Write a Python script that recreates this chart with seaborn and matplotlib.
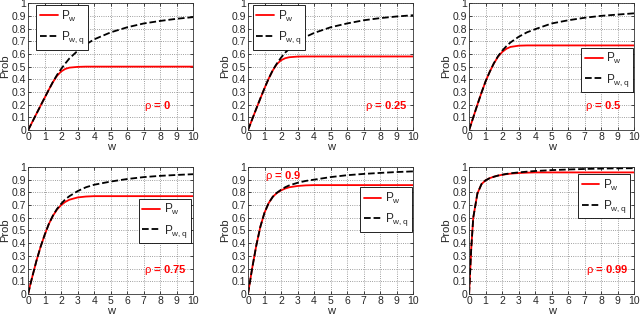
import numpy as np
import pandas as pd
import seaborn as sns
import matplotlib.pyplot as plt

# w grid and curves
w = [0, 0.125, 0.25, 0.5, 0.75, 1, 1.25, 1.5, 1.75, 2, 2.25, 2.5, 3, 3.5, 4, 5, 6, 7, 8, 9, 10]

rhos = ['0', '0.25', '0.5', '0.75', '0.9', '0.99']

pw_0 = [0, 0.032, 0.064, 0.128, 0.192, 0.255, 0.318, 0.378, 0.428, 0.462, 0.482, 0.492, 0.498, 0.5, 0.5, 0.5, 0.5, 0.5, 0.5, 0.5, 0.5]
pwq_0 = [0, 0.032, 0.064, 0.128, 0.192, 0.255, 0.318, 0.380, 0.435, 0.482, 0.525, 0.565, 0.625, 0.675, 0.715, 0.77, 0.81, 0.84, 0.86, 0.877, 0.89]

pw_025 = [0, 0.042, 0.084, 0.168, 0.25, 0.33, 0.405, 0.47, 0.52, 0.55, 0.566, 0.574, 0.579, 0.58, 0.58, 0.58, 0.58, 0.58, 0.58, 0.58, 0.58]
pwq_025 = [0, 0.042, 0.084, 0.168, 0.25, 0.33, 0.405, 0.472, 0.525, 0.57, 0.61, 0.64, 0.69, 0.735, 0.765, 0.81, 0.84, 0.865, 0.882, 0.895, 0.905]

pw_05 = [0, 0.05, 0.1, 0.2, 0.295, 0.385, 0.46, 0.525, 0.578, 0.615, 0.64, 0.655, 0.665, 0.667, 0.667, 0.667, 0.667, 0.667, 0.667, 0.667, 0.667]
pwq_05 = [0, 0.05, 0.1, 0.2, 0.295, 0.385, 0.46, 0.527, 0.582, 0.625, 0.66, 0.69, 0.735, 0.77, 0.795, 0.84, 0.865, 0.885, 0.9, 0.91, 0.92]

pw_075 = [0, 0.07, 0.135, 0.26, 0.37, 0.465, 0.55, 0.615, 0.665, 0.70, 0.725, 0.742, 0.76, 0.767, 0.77, 0.77, 0.77, 0.77, 0.77, 0.77, 0.77]
pwq_075 = [0, 0.07, 0.135, 0.26, 0.37, 0.465, 0.55, 0.617, 0.67, 0.71, 0.745, 0.77, 0.81, 0.84, 0.86, 0.885, 0.905, 0.92, 0.93, 0.937, 0.943]

pw_09 = [0, 0.1, 0.2, 0.38, 0.53, 0.64, 0.715, 0.765, 0.795, 0.815, 0.83, 0.84, 0.85, 0.855, 0.857, 0.857, 0.857, 0.857, 0.857, 0.857, 0.857]
pwq_09 = [0, 0.1, 0.2, 0.38, 0.53, 0.64, 0.715, 0.765, 0.797, 0.82, 0.84, 0.855, 0.875, 0.89, 0.9, 0.92, 0.935, 0.945, 0.953, 0.96, 0.965]

pw_099 = [0, 0.35, 0.6, 0.79, 0.865, 0.895, 0.912, 0.923, 0.932, 0.938, 0.943, 0.947, 0.952, 0.955, 0.957, 0.957, 0.957, 0.957, 0.957, 0.957, 0.957]
pwq_099 = [0, 0.35, 0.6, 0.79, 0.865, 0.895, 0.912, 0.923, 0.932, 0.939, 0.945, 0.95, 0.957, 0.963, 0.968, 0.975, 0.98, 0.984, 0.987, 0.989, 0.99]

pw_all = [pw_0, pw_025, pw_05, pw_075, pw_09, pw_099]
pwq_all = [pwq_0, pwq_025, pwq_05, pwq_075, pwq_09, pwq_099]

# where the rho label sits (data coords) and where the legend goes
rho_pos = [(7.0, 0.19), (7.1, 0.19), (7.0, 0.19), (7.0, 0.19), (1.0, 0.93), (7.1, 0.19)]
leg_pos = [('upper left', (0.05, 0.985)), ('upper left', (0.03, 0.985)),
           ('upper right', (0.995, 0.65)), ('upper right', (0.985, 0.75)),
           ('upper right', (0.995, 0.84)), ('upper right', (0.975, 0.945))]

sns.set_style('ticks')
plt.rcParams['font.family'] = ['Liberation Sans', 'DejaVu Sans']
plt.rcParams['mathtext.fontset'] = 'custom'
plt.rcParams['mathtext.rm'] = 'Liberation Sans'
plt.rcParams['mathtext.it'] = 'Liberation Sans'

fig = plt.figure(figsize=(6.4, 3.15), dpi=100)
lefts = [0.044, 0.3875, 0.733]
bottoms = [0.587, 0.067]
aw, ah = 0.258, 0.403

for i in range(6):
    r, c = divmod(i, 3)
    ax = fig.add_axes([lefts[c], bottoms[r], aw, ah])
    sns.lineplot(x=w, y=pw_all[i], ax=ax, color='red', linewidth=1.3,
                 label=r'P$_{\mathrm{w}}$')
    sns.lineplot(x=w, y=pwq_all[i], ax=ax, color='black', linewidth=1.3,
                 linestyle='--', dashes=(3, 2), label=r'P$_{\mathrm{w,q}}$')
    ax.set_xlim(0, 10)
    ax.set_ylim(0, 1)
    ax.set_xticks(range(0, 11))
    ax.set_yticks(np.round(np.arange(0, 1.01, 0.1), 1))
    ax.set_yticklabels(['0', '0.1', '0.2', '0.3', '0.4', '0.5', '0.6', '0.7', '0.8', '0.9', '1'])
    ax.grid(True, linestyle=':', color='0.5', linewidth=0.6)
    ax.tick_params(direction='in', length=2.5, width=0.6, labelsize=7.5, pad=1.5,
                   top=True, right=True)
    for s in ax.spines.values():
        s.set_linewidth(0.6)
        s.set_color('0.2')
    ax.set_xlabel('w', fontsize=8, labelpad=0)
    ax.set_ylabel('Prob', fontsize=8, labelpad=1)
    tx, ty = rho_pos[i]
    ax.text(tx, ty, r'$\rho$ = ' + rhos[i], color='red', fontsize=8,
            fontweight='bold', va='center', ha='left')
    loc, anchor = leg_pos[i]
    leg = ax.legend(loc=loc, bbox_to_anchor=anchor, fontsize=8.5, frameon=True,
                    fancybox=False, framealpha=1, edgecolor='black',
                    handlelength=1.5, handletextpad=0.3, borderpad=0.3,
                    labelspacing=0.45, borderaxespad=0)
    leg.get_frame().set_linewidth(0.6)

fig.savefig('out.png', dpi=100)
